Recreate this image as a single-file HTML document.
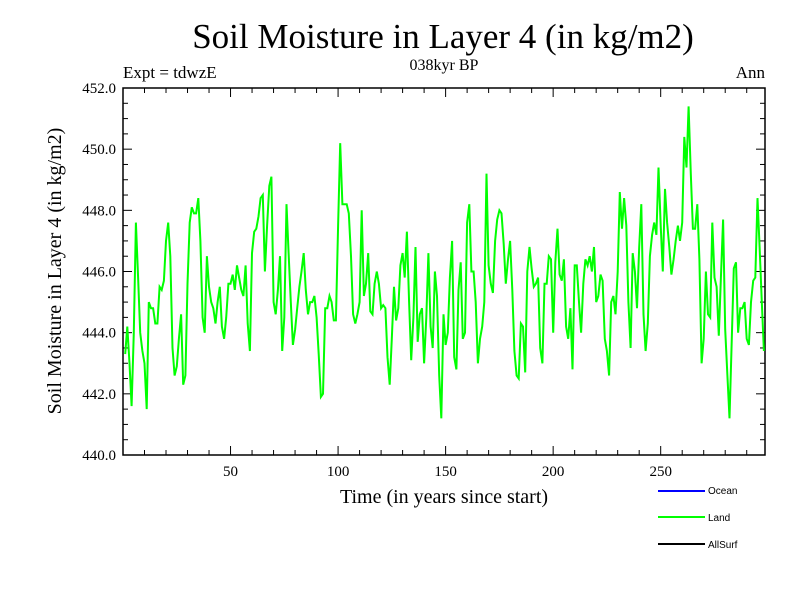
<!DOCTYPE html>
<html><head><meta charset="utf-8"><style>
body{margin:0;background:#fff;}
svg{display:block;}
text{font-family:"Liberation Serif",serif;fill:#000;}
</style></head><body>
<svg id="chart" width="800" height="600" viewBox="0 0 800 600" xmlns="http://www.w3.org/2000/svg">
<rect x="0" y="0" width="800" height="600" fill="#fff"/>
<text x="443" y="48" font-size="35" text-anchor="middle">Soil Moisture in Layer 4 (in kg/m2)</text>
<text x="123" y="78" font-size="17">Expt = tdwzE</text>
<text x="444" y="70" font-size="16" text-anchor="middle">038kyr BP</text>
<text x="765" y="78" font-size="17" text-anchor="end">Ann</text>
<text transform="translate(61,271) rotate(-90)" font-size="20" text-anchor="middle">Soil Moisture in Layer 4 (in kg/m2)</text>
<text x="444" y="503" font-size="20" text-anchor="middle">Time (in years since start)</text>
<g id="axes"></g>
<g id="series"></g>
<g>
<g><line x1="658" y1="491" x2="705" y2="491" stroke="#0000ff" stroke-width="2"/><text x="708" y="494" font-size="10" style="font-family:'Liberation Sans',sans-serif">Ocean</text></g>
<g><line x1="658" y1="517" x2="705" y2="517" stroke="#00ff00" stroke-width="2"/><text x="708" y="521" font-size="10" style="font-family:'Liberation Sans',sans-serif">Land</text></g>
<g><line x1="658" y1="544" x2="705" y2="544" stroke="#000" stroke-width="2"/><text x="708" y="548" font-size="10" style="font-family:'Liberation Sans',sans-serif">AllSurf</text></g>
</g>
</svg>
<script>
const xTicks = [50, 100, 150, 200, 250];
const yTicks = [440, 442, 444, 446, 448, 450, 452];
const yTickLabels = ["440.0", "442.0", "444.0", "446.0", "448.0", "450.0", "452.0"];
const startYear = 1;
const landValues = [
443.3,444.2,443.0,441.6,444.0,447.6,445.8,444.0,443.4,443.0,441.5,445.0,444.8,444.8,444.3,444.3,445.5,445.4,445.7,447.0,
447.6,446.5,443.5,442.6,442.9,443.8,444.6,442.3,442.6,445.6,447.6,448.1,447.9,447.9,448.4,447.0,444.5,444.0,446.5,445.5,
445.0,444.8,444.3,445.0,445.5,444.2,443.8,444.5,445.6,445.6,445.9,445.4,446.2,445.8,445.4,445.2,446.2,444.3,443.4,446.6,
447.3,447.4,447.8,448.4,448.5,446.0,447.5,448.8,449.1,445.0,444.6,445.4,446.5,443.4,444.5,448.2,446.6,445.0,443.6,444.1,
444.8,445.5,446.0,446.6,445.4,444.6,445.0,445.0,445.2,444.5,443.3,441.9,442.0,444.8,444.8,445.2,445.0,444.4,444.4,447.5,
450.2,448.2,448.2,448.2,447.9,446.5,444.6,444.3,444.6,445.0,448.0,445.2,445.6,446.6,444.7,444.6,445.6,446.0,445.6,444.8,
444.9,444.8,443.2,442.3,443.8,445.5,444.4,444.8,446.2,446.6,445.8,447.3,445.0,443.1,444.5,446.8,443.7,444.6,444.8,443.0,
444.5,446.6,444.2,443.5,446.0,445.2,442.6,441.2,444.6,443.6,444.0,445.8,447.0,443.2,442.8,445.4,446.3,443.8,444.0,447.6,
448.2,446.0,446.0,445.0,443.0,443.8,444.2,445.0,449.2,446.2,445.6,445.3,447.0,447.7,448.0,447.9,446.9,445.6,446.4,447.0,
445.4,443.4,442.6,442.5,444.3,444.2,442.7,446.0,446.8,446.1,445.5,445.6,445.8,443.5,443.0,445.6,445.6,446.5,446.4,444.0,
446.3,447.4,445.9,445.7,446.4,444.2,443.8,444.8,442.8,446.2,446.2,445.0,444.0,445.6,446.4,446.2,446.5,446.0,446.8,445.0,
445.2,445.9,445.7,443.8,443.4,442.6,445.0,445.2,444.6,446.0,448.6,447.4,448.4,447.5,445.0,443.5,446.6,446.0,444.8,446.8,
448.2,444.6,443.4,444.3,446.5,447.2,447.6,447.2,449.4,447.5,446.0,448.7,447.6,446.8,445.9,446.4,447.0,447.5,447.0,447.6,
450.4,449.4,451.4,449.2,447.4,447.4,448.2,446.4,443.0,443.8,446.0,444.6,444.5,447.6,445.8,445.5,443.9,445.8,447.7,444.1,
442.6,441.2,443.7,446.1,446.3,444.0,444.8,444.8,445.0,443.8,443.6,445.0,445.7,445.8,448.4,446.8,445.0,443.4
];
const NS = "http://www.w3.org/2000/svg";
const L = 123, R = 765, T = 88, B = 455;
const xMin = 0, xMax = 298.5, yMin = 440, yMax = 452;
function xs(v){ return L + (v - xMin) / (xMax - xMin) * (R - L); }
function ys(v){ return B - (v - yMin) / (yMax - yMin) * (B - T); }
function mk(tag, attrs, parent){ const e = document.createElementNS(NS, tag); for (const k in attrs) e.setAttribute(k, attrs[k]); parent.appendChild(e); return e; }
const axes = document.getElementById('axes');
const frame = mk('rect', {x:L, y:T, width:R-L, height:B-T, fill:'none', stroke:'#000', 'stroke-width':1.5}, axes);


// x minor ticks every 10, major at xTicks
for (let v = 10; v < xMax; v += 10) {
  const major = xTicks.includes(v);
  const len = major ? 9 : 5;
  const x = xs(v);
  const t1 = mk('line', {x1:x, y1:B, x2:x, y2:B-len, stroke:'#000', 'stroke-width':1}, axes);
  
  
  const t2 = mk('line', {x1:x, y1:T, x2:x, y2:T+len, stroke:'#000', 'stroke-width':1}, axes);
  
  
}
xTicks.forEach(v => {
  const t = mk('text', {x:xs(v), y:B+21, 'font-size':15, 'text-anchor':'middle'}, axes);
  t.textContent = String(v);
  
  
});
// y minor ticks every 0.5
for (let v = yMin + 0.5; v < yMax; v += 0.5) {
  const major = Math.abs(v % 2) < 1e-6;
  const len = major ? 9 : 5;
  const y = ys(v);
  const t1 = mk('line', {x1:L, y1:y, x2:L+len, y2:y, stroke:'#000', 'stroke-width':1}, axes);
  
  
  const t2 = mk('line', {x1:R, y1:y, x2:R-len, y2:y, stroke:'#000', 'stroke-width':1}, axes);
  
  
}
yTicks.forEach((v, i) => {
  const t = mk('text', {x:L-7, y:ys(v)+5, 'font-size':15, 'text-anchor':'end'}, axes);
  t.textContent = yTickLabels[i];
  
  
});
const series = document.getElementById('series');
const pts = landValues.map((v, i) => xs(startYear + i).toFixed(1) + ',' + ys(v).toFixed(1)).join(' ');
const line = mk('polyline', {points:pts, fill:'none', stroke:'#00ff00', 'stroke-width':2, 'stroke-linejoin':'miter'}, series);


</script>
</body></html>
